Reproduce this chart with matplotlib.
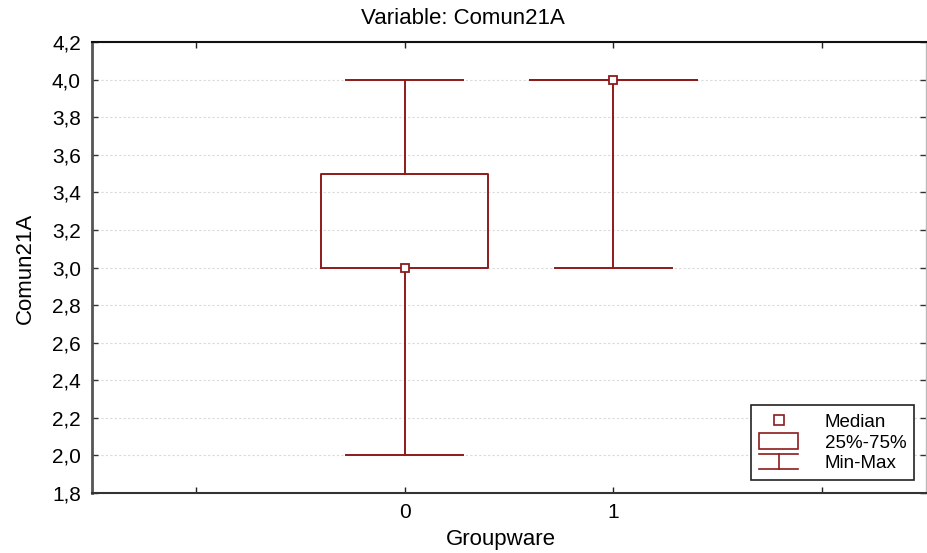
import matplotlib
matplotlib.use("Agg")
import matplotlib.pyplot as plt
from matplotlib.ticker import FuncFormatter, FixedLocator
from matplotlib.lines import Line2D
from matplotlib.patches import Rectangle
from matplotlib.legend_handler import HandlerBase

plt.rcParams['font.family'] = ['Liberation Sans', 'DejaVu Sans']

# Summary statistics per group
groups = [0, 1]
minimum = [2.0, 3.0]
q25 = [3.0, 4.0]
median = [3.0, 4.0]
q75 = [3.5, 4.0]
maximum = [4.0, 4.0]

title = "Variable: Comun21A"
xlabel = "Groupware"
ylabel = "Comun21A"
legend_labels = ["Median", "25%-75%", "Min-Max"]

RED = "#8e1b1b"

fig = plt.figure(figsize=(9.27, 5.53), dpi=100)
ax = fig.add_axes([92 / 927, 1 - 493 / 553, (926 - 92) / 927, (493 - 42) / 553])

stats = []
for g, lo, a, m, b, hi in zip(groups, minimum, q25, median, q75, maximum):
    stats.append(dict(med=m, q1=a, q3=b, whislo=lo, whishi=hi, fliers=[], label=str(g)))

ax.bxp(stats, positions=groups, widths=0.8, capwidths=0.56, showfliers=False,
       boxprops=dict(color=RED, linewidth=1.4),
       whiskerprops=dict(color=RED, linewidth=1.4, linestyle='-'),
       capprops=dict(color=RED, linewidth=1.4),
       medianprops=dict(linestyle='none'), manage_ticks=False, zorder=3)
ax.plot(groups, median, linestyle='none', marker='s', markersize=6,
        markerfacecolor='white', markeredgecolor=RED, markeredgewidth=1.3, zorder=5)

ax.set_xlim(-1.5, 2.5)
ax.set_ylim(1.8, 4.2)
ax.yaxis.set_major_locator(FixedLocator([1.8 + 0.2 * i for i in range(13)]))
ax.yaxis.set_major_formatter(FuncFormatter(lambda v, p: f"{v:.1f}".replace('.', ',')))
ax.set_xticks([-1, 0, 1, 2])
ax.set_xticklabels(['', '0', '1', ''])
ax.tick_params(direction='in', length=4, width=1, top=True, right=True,
               labelsize=15, colors='#222222', pad=8)
ax.tick_params(axis='y', colors='#333333', labelcolor='black')
ax.tick_params(axis='x', labelcolor='black', pad=7)

ax.grid(axis='y', linestyle=(0, (2, 2)), color='#dadada', linewidth=0.8, zorder=0)
ax.set_axisbelow(True)

ax.spines['left'].set_color('#555555')
ax.spines['left'].set_linewidth(2)
ax.spines['bottom'].set_color('#333333')
ax.spines['bottom'].set_linewidth(1.5)
ax.spines['top'].set_color('#111111')
ax.spines['top'].set_linewidth(1.5)
ax.spines['right'].set_color('#bbbbbb')
ax.spines['right'].set_linewidth(1)

fig.text(463 / 927, 1 - 18 / 553, title, ha='center', va='center', fontsize=16)
fig.text(501 / 927, 1 - 540 / 553, xlabel, ha='center', va='center', fontsize=16)
fig.text(25 / 927, 1 - 268 / 553, ylabel, ha='center', va='center', rotation=90, fontsize=16)


class WhiskerHandler(HandlerBase):
    def create_artists(self, legend, orig_handle, xdescent, ydescent, width, height, fontsize, trans):
        x0, x1 = -xdescent, -xdescent + width
        xc = (x0 + x1) / 2
        ylo, yhi = -ydescent, -ydescent + height
        arts = [Line2D([x0, x1], [yhi, yhi], color=RED, lw=1.2, transform=trans),
                Line2D([x0, x1], [ylo, ylo], color=RED, lw=1.2, transform=trans),
                Line2D([xc, xc], [ylo, yhi], color=RED, lw=1.2, transform=trans)]
        return arts


class BoxHandler(HandlerBase):
    def create_artists(self, legend, orig_handle, xdescent, ydescent, width, height, fontsize, trans):
        r = Rectangle((-xdescent, -ydescent), width, height,
                      facecolor='white', edgecolor=RED, lw=1.2, transform=trans)
        return [r]


h_med = Line2D([], [], linestyle='none', marker='s', markersize=7,
               markerfacecolor='white', markeredgecolor=RED, markeredgewidth=1.2)
h_box = Rectangle((0, 0), 1, 1)
h_wh = Line2D([], [])

leg = ax.legend([h_med, h_box, h_wh], legend_labels,
                handler_map={Rectangle: BoxHandler(), h_wh: WhiskerHandler()},
                loc='lower right', bbox_to_anchor=(914 / 927, 1 - 480 / 553),
                bbox_transform=fig.transFigure, borderaxespad=0,
                fontsize=13.5, frameon=True, fancybox=False,
                edgecolor='#222222', framealpha=1, handlelength=2.1, handleheight=0.9,
                handletextpad=1.4, labelspacing=0.12, borderpad=0.42)
leg.get_frame().set_linewidth(1.2)

fig.savefig("out.png", dpi=100)
